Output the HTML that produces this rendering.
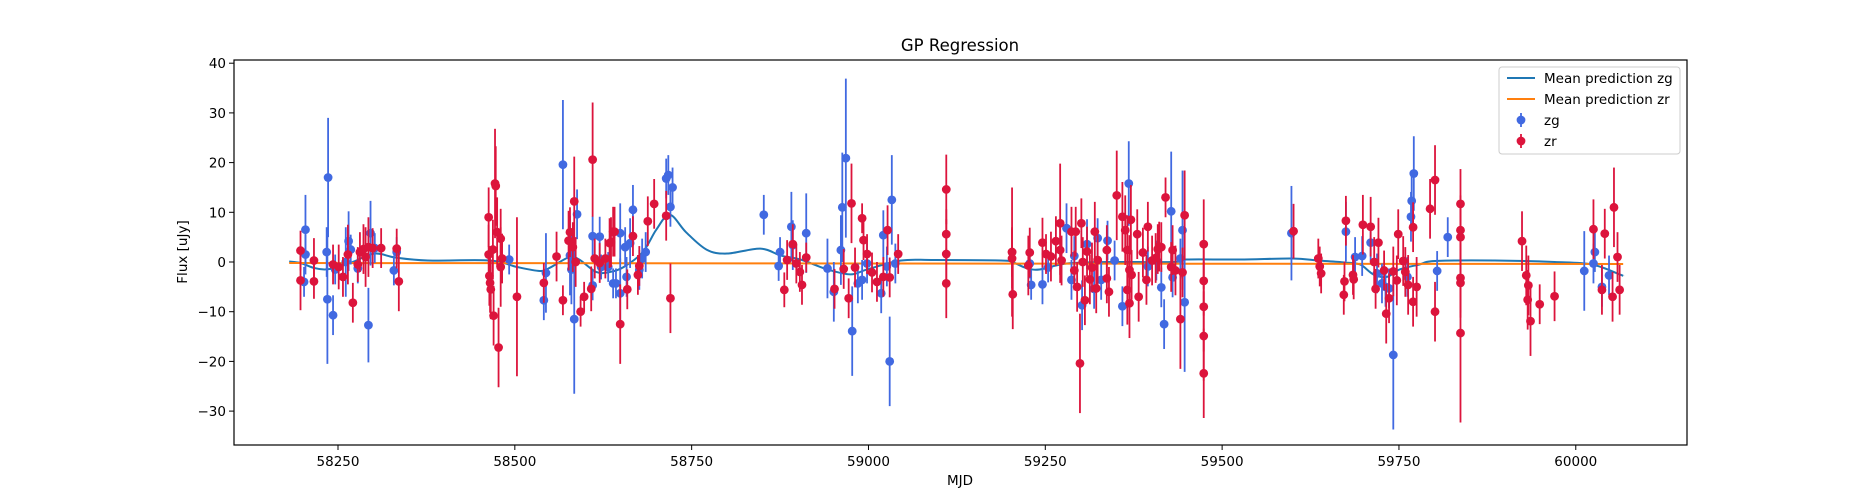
<!DOCTYPE html>
<html><head><meta charset="utf-8"><style>
body{margin:0;background:#fff;position:relative;width:1875px;height:500px;overflow:hidden}
#chart{position:absolute;left:0;top:0}
svg text{font-family:"DejaVu Sans","Liberation Sans",sans-serif;fill:#000;}
</style></head><body>
<svg id="chart" width="1875" height="500" xmlns="http://www.w3.org/2000/svg"></svg>
<script>
const zgT=[58204,58204,58202,58234,58236,58235,58243,58246,58261,58265,58268,58278,58293,58296,58302,58329,58333,58492,58541,58544,58568,58578,58580,58584,58588,58610,58610,58622,
58620,58632,58639,58643,58649,58649,58656,58658,58663,58667,58676,58680,58685,58714,58717,58723,58720,58852,58875,58873,58891,58893,58912,58942,58951,58961,58963,58968,58977,58985,58991,58998,59018,59021,59026,59033,59030,59038,
59228,59230,59246,59254,59280,59291,59287,59302,59309,59319,59324,59329,59338,59348,59359,59368,59395,59407,59414,59418,59428,59430,59441,59444,59447,
59598,59675,59688,59698,59710,59719,59726,59731,59736,59742,59768,59771,59767,59762,59804,59819,60012,60025,60027,60037,60047];
const zgF=[6.5,1.5,-4,2,17,-7.5,-10.7,-1.5,0,4.2,2.5,-1.3,-12.7,5.8,2.8,-1.7,2,0.5,-7.7,-2.2,19.6,1.3,-1.5,-11.5,9.6,5.2,-4.7,-1,
5.1,-1,-4.3,-4.3,5.8,-6.3,3,-3,3.8,10.5,-1.6,0.7,2,16.8,17.5,15,11.1,9.5,2,-0.8,7.1,3.4,5.8,-1.3,-6,2.4,11,20.9,-13.9,-4.3,-3.6,-0.3,-6.3,5.4,-0.9,12.5,-20,-0.3,
-0.3,-4.6,-4.5,-1.1,6.8,1.2,-3.6,-8.7,3.6,-5.4,4.8,-3.6,4.3,0.3,-8.9,15.8,-0.9,0.3,-5.1,-12.5,10.2,-3.1,0.7,6.4,-8.1,
5.8,6.1,1,1.2,3.9,-2.3,-4.3,-5,-5.3,-18.7,12.3,17.8,9.1,-3,-1.8,5,-1.8,-0.3,2,-5,-2.7];
const zgE=[7,4,3,5,12,13,4,3,7,6,3,3,7.5,6.5,3,3,3,3,4,8,13,8,7,15,5,4,3,2.5,
4,3,3,3,6,7,4,4,5,5,4,4,4,4,4,4,4,4,3,3,7,5,8,6,6,7,11,16,9,4,4,4,4,5,4,9,9,4,
3,3,4,3,5,4,4,5,5,4,4,4,4,4,4,8.5,4,4,4,5,12,4,4,12,14,
9.5,6,4,4,4,4,4,4,4,15,5,7.5,5,4,4,4,8,4,4,4,4];
const zrT=[58197,58197,58216,58216,58243,58251,58257,58264,58271,58278,58281,58286,58289,58293,58299,58311,58333,58336,
58463,58472,58473,58475,58480,58463,58469,58464,58465,58466,58480,58482,58470,58477,58503,
58541,58559,58568,58576,58578,58582,58584,58586,58593,58598,58608,58610,58613,58620,
58628,58634,58639,58636,58641,58649,58659,58667,58674,58676,58688,58697,58714,58720,
58881,58885,58893,58898,58903,58906,58912,58952,58965,58972,58976,58991,58993,58998,58981,59005,59012,59021,59027,59030,59042,
59110,59110,59110,59110,59204,
59203,59203,59203,59226,59228,59246,59251,59258,59265,59271,59271,59273,59287,59291,59293,59295,59299,59301,59303,59306,59309,59313,59316,59320,59322,59324,59337,59337,59340,59351,59359,59363,59366,59369,59366,59369,59371,59372,59380,59382,59388,59393,59395,59401,59406,59409,59411,59414,59420,59430,59428,59434,59441,59444,59447,59474,59474,59474,59474,59474,
59601,59636,59640,59638,59673,59672,59675,59686,59685,59699,59710,59715,59717,59721,59729,59732,59736,59742,59747,59749,59756,59759,59763,59770,59770,59775,
59794,59801,59801,59837,59837,59837,59837,59837,59837,59924,59930,59933,59932,59936,59949,59970,60025,60037,60041,60052,60054,60059,60062,60057];
const zrF=[2.3,-3.7,0.3,-3.9,-0.5,-1,-3,1.5,-8.2,-0.5,2,2.6,1,3,2.8,2.8,2.7,-3.9,
9,15.8,15.3,6,4.7,1.5,2.5,-2.8,-4.2,-5.5,-1,0.7,-10.8,-17.2,-7,
-4.2,1.1,-7.7,4.3,6,3,12.2,0,-10,-7,-5.4,20.6,0.7,-0.2,
0.7,3.8,6.1,4,6.1,-12.5,-5.5,5.2,-2.6,-0.8,8.2,11.7,9.3,-7.3,
-5.6,0.4,3.6,-0.3,-2,-4.6,0.9,-5.4,-1.4,-7.3,11.8,8.8,4.4,1.6,-1.1,-2.1,-4,-3,6.4,-3.1,1.6,5.6,
14.6,1.6,-4.3,-6.5,2,
2,0.7,-0.7,1.9,3.9,1.6,1.1,4.2,2.4,7.8,0.3,6.1,-1.7,6.1,-5,-20.4,7.8,0,-7.7,2.1,-3.5,-1.1,6.1,-5.3,0.4,2.4,-3.3,-6,13.4,9.1,6.4,2.4,-1.6,-5.6,-8.3,8.5,-2.6,5.6,-7,1.9,-3.6,7.1,0.3,0.8,2.6,3.1,3,13,2.4,-1,-1.7,-11.5,-2.1,9.4,3.6,-9,-14.9,-22.4,
-3.8,6.2,0.7,-2.3,-0.9,-3.9,-6.6,8.3,-3.5,-2.6,7.5,7.1,0,-5.4,3.9,-1.7,-10.4,-7.3,-1.9,-3.7,5.6,0.2,-2,-4.6,-8,7,
-5,10.7,-10,16.5,11.7,6.4,5,-3.2,-4.2,-14.3,4.2,-2.7,-4.7,-7.6,-11.9,-8.5,-6.9,6.6,-5.6,5.7,-7,11,1,-5.6];
const zrE=[4,6,4.5,3.5,4,4.5,4,6,4,3.5,4,5,6,6,4,4,4,6,
6,11,8,7,6,6,6,6,6,6,8,5,6,8,16,
4,5,3,6,5,5,9,5,3,3,4.5,11.5,4,4,
4,5,5,5,5,8,4,4,4,4,5,5,5,7,
3.5,4,4,4,4,4,3,4,4,4,8,3,4,4,4,4,4,4,5,4,4,5,
7,7,7,7,5,
13,6,6,5,5,4,5,5,5,12,5,5,4,5,5,10,5,5,5,5,5,5,6,5,5,5,5,5,9,7,7,7,7,7,7,7,5,5,5,5,5,5,5,5,5,5,5,4,5,5,5,10,5,9,9,9,9,9,
7,5.5,4,4,4,4,4,5,4,4,6,6,5,4,5,4,6,5,5,5,5,5,5,6,5,5,
6,6,6,7,7,7,7,7,7,18,6,6,6,6,7,4,5,6,5,5,5,8,5,5];
const gpT=[58181,58197,58216,58231,58246,58271,58302,58331,58377,58465,58503,58535,58549,58577,58591,58615,58635,58654,58681,58700,58719,58742,58771,58800,58847,58876,58904,58942,58975,58998,59046,59093,59187,59203,59223,59242,59280,59337,59431,59449,59525,59599,59636,59673,59695,59714,59733,59751,59779,59801,59885,59970,60023,60062,60067];
const gpZg=[0.1,-0.2,-1.2,-1.5,-1.2,0,1.7,0.9,0.3,0.3,-1,-1.8,-1.2,1,0.5,-2,-2,-1,2,6.5,9.5,6,2.5,1.7,2.7,1.3,0.5,-1.5,-2.5,-1.5,0.3,0.4,0.3,0,-1.2,-1.5,-0.3,0,0,0.5,0.5,0.7,0.3,-0.1,-0.5,-2.5,-3,-1.5,-0.5,0.2,0.3,0,-0.5,-2.5,-2.8];
const gpZrT=[58181,59000,60067];
const gpZr=[-0.2,-0.3,-0.4];
const xTicks=[58250,58500,58750,59000,59250,59500,59750,60000];
const yTicks=[-30,-20,-10,0,10,20,30,40];

const NS='http://www.w3.org/2000/svg';
const svg=document.getElementById('chart');
const L=234,R=1687,T=60,B=445;
const sx=v=>338+(v-58250)*0.7073;
const sy=v=>262-(v)*4.97;
function mk(tag,attrs,parent){const e=document.createElementNS(NS,tag);for(const k in attrs)e.setAttribute(k,attrs[k]);(parent||svg).appendChild(e);return e;}
mk('rect',{x:0,y:0,width:1875,height:500,fill:'#fff'});
const defs=mk('defs',{});const cp=mk('clipPath',{id:'clip'},defs);mk('rect',{x:L,y:T,width:R-L,height:B-T},cp);
const plot=mk('g',{'clip-path':'url(#clip)'});
function smoothPath(ts,vs){let p='M'+sx(ts[0])+','+sy(vs[0]);for(let i=0;i<ts.length-1;i++){const x0=sx(ts[Math.max(0,i-1)]),y0=sy(vs[Math.max(0,i-1)]),x1=sx(ts[i]),y1=sy(vs[i]),x2=sx(ts[i+1]),y2=sy(vs[i+1]),x3=sx(ts[Math.min(ts.length-1,i+2)]),y3=sy(vs[Math.min(ts.length-1,i+2)]);p+=` C${x1+(x2-x0)/6},${y1+(y2-y0)/6} ${x2-(x3-x1)/6},${y2-(y3-y1)/6} ${x2},${y2}`;}return p;}
const lz=mk('path',{d:smoothPath(gpT,gpZg),fill:'none',stroke:'#1f77b4','stroke-width':2},plot);


const lr=mk('path',{d:smoothPath(gpZrT,gpZr),fill:'none',stroke:'#ff7f0e','stroke-width':2},plot);


function series(T_,F_,E_,col,name){const g=mk('g',{},plot);
for(let i=0;i<T_.length;i++){const x=sx(T_[i]);const eb=mk('line',{x1:x,x2:x,y1:sy(F_[i]-E_[i]),y2:sy(F_[i]+E_[i]),stroke:col,'stroke-width':1.8},g);

}
for(let i=0;i<T_.length;i++){const c=mk('circle',{cx:sx(T_[i]),cy:sy(F_[i]),r:4.4,fill:col},g);

}}
series(zgT,zgF,zgE,'#4169e1','zg');
series(zrT,zrF,zrE,'#dc143c','zr');
const frame=mk('rect',{x:L,y:T,width:R-L,height:B-T,fill:'none',stroke:'#000','stroke-width':1.2});


xTicks.forEach(v=>{const x=sx(v);mk('line',{x1:x,x2:x,y1:B,y2:B+5,stroke:'#000','stroke-width':1});const t=mk('text',{x:x,y:B+21,'text-anchor':'middle','font-size':13.5});t.textContent=v;

});
yTicks.forEach(v=>{const y=sy(v);mk('line',{x1:L-5,x2:L,y1:y,y2:y,stroke:'#000','stroke-width':1});const t=mk('text',{x:L-8,y:y+5,'text-anchor':'end','font-size':13.5});t.textContent=v<0?'\u2212'+(-v):v;

});
</script>
<svg style="position:absolute;left:0;top:0" width="1875" height="500" xmlns="http://www.w3.org/2000/svg">
<text x="960" y="51" text-anchor="middle" font-size="16.5">GP Regression</text>
<text x="960" y="485" text-anchor="middle" font-size="13.5">MJD</text>
<text transform="translate(187,252) rotate(-90)" text-anchor="middle" font-size="13.5">Flux [uJy]</text>
<g>
<rect x="1499" y="67" width="181" height="87" rx="3" fill="#fff" fill-opacity="0.8" stroke="#ccc"/>
<line x1="1507" x2="1535" y1="78" y2="78" stroke="#1f77b4" stroke-width="2"/>
<text x="1544" y="83" font-size="13.5">Mean prediction zg</text>
<line x1="1507" x2="1535" y1="99" y2="99" stroke="#ff7f0e" stroke-width="2"/>
<text x="1544" y="104" font-size="13.5">Mean prediction zr</text>
<line x1="1521" x2="1521" y1="113" y2="127" stroke="#4169e1" stroke-width="1.8"/><circle cx="1521" cy="120" r="4.4" fill="#4169e1"/>
<text x="1544" y="125" font-size="13.5">zg</text>
<line x1="1521" x2="1521" y1="134" y2="148" stroke="#dc143c" stroke-width="1.8"/><circle cx="1521" cy="141" r="4.4" fill="#dc143c"/>
<text x="1544" y="146" font-size="13.5">zr</text>
</g>
</svg>
</body></html>
